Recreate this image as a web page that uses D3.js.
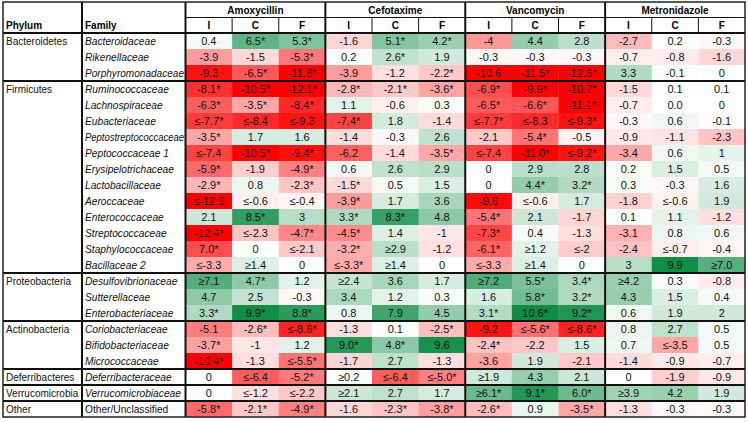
<!DOCTYPE html>
<html><head><meta charset="utf-8">
<script src="https://cdn.jsdelivr.net/npm/d3@7"></script>
<style>
html,body{margin:0;padding:0;background:#fff;}
svg{display:block;font-family:"Liberation Sans",Arial,sans-serif;}
</style></head>
<body><svg id="chart" width="748" height="422"></svg>
<script>
const phyla = ["Bacteroidetes","Firmicutes","Proteobacteria","Actinobacteria","Deferribacteres","Verrucomicrobia","Other"];
const phylumSizes = [3,12,3,3,1,1,1];
const families = ["Bacteroidaceae","Rikenellaceae","Porphyromonadaceae",
  "Ruminococcaceae","Lachnospiraceae","Eubacteriaceae","Peptostreptococcaceae","Peptococcaceae 1","Erysipelotrichaceae","Lactobacillaceae","Aeroccaceae","Enterococcaceae","Streptococcaceae","Staphylococcaceae","Bacillaceae 2",
  "Desulfovibrionaceae","Sutterellaceae","Enterobacteriaceae",
  "Coriobacteriaceae","Bifidobacteriaceae","Micrococcaceae",
  "Deferribacteraceae","Verrucomicrobiaceae","Other/Unclassified"];
const antibiotics = ["Amoxycillin","Cefotaxime","Vancomycin","Metronidazole"];
const subCols = ["I","C","F"];

const amoxycillin = [
 ["0.4","6.5*","5.3*"],["-3.9","-1.5","-5.3*"],["-9.3","-6.5*","-11.8*"],
 ["-8.1*","-10.5*","-12.1*"],["-6.3*","-3.5*","-8.4*"],["≤-7.7*","≤-8.4","≤-9.3"],["-3.5*","1.7","1.6"],["≤-7.4","-10.5*","-9.4*"],["-5.9*","-1.9","-4.9*"],["-2.9*","0.8","-2.3*"],["≤-12.9","≤-0.6","≤-0.4"],["2.1","8.5*","3"],["-12.4*","≤-2.3","-4.7*"],["7.0*","0","≤-2.1"],["≤-3.3","≥1.4","0"],
 ["≥7.1","4.7*","1.2"],["4.7","2.5","-0.3"],["3.3*","9.9*","8.8*"],
 ["-5.1","-2.6*","≤-8.6*"],["-3.7*","-1","1.2"],["-10.4*","-1.3","≤-5.5*"],
 ["0","≤-6.4","-5.2*"],["0","≤-1.2","≤-2.2"],["-5.8*","-2.1*","-4.9*"]];
const cefotaxime = [
 ["-1.6","5.1*","4.2*"],["0.2","2.6*","1.9"],["-3.9","-1.2","-2.2*"],
 ["-2.8*","-2.1*","-3.6*"],["1.1","-0.6","0.3"],["-7.4*","1.8","-1.4"],["-1.4","-0.3","2.6"],["-6.2","-1.4","-3.5*"],["0.6","2.6","2.9"],["-1.5*","0.5","1.5"],["-3.9*","1.7","3.6"],["3.3*","8.3*","4.8"],["-4.5*","1.4","-1"],["-3.2*","≥2.9","-1.2"],["≤-3.3*","≥1.4","0"],
 ["≥2.4","3.6","1.7"],["3.4","1.2","0.3"],["0.8","7.9","4.5"],
 ["-1.3","0.1","-2.5*"],["9.0*","4.8*","9.6"],["-1.7","2.7","-1.3"],
 ["≥0.2","≤-6.4","≤-5.0*"],["≥2.1","2.7","1.7"],["-1.6","-2.3*","-3.8*"]];
const vancomycin = [
 ["-4","4.4","2.8"],["-0.3","-0.3","-0.3"],["-10.6","-11.5*","-12.6*"],
 ["-6.9*","-9.9*","-10.7*"],["-6.5*","-6.6*","-11.1*"],["≤-7.7*","≤-8.3","≤-9.3*"],["-2.1","-5.4*","-0.5"],["≤-7.4","-11.0*","≤-9.2*"],["0","2.9","2.8"],["0","4.4*","3.2*"],["-9.6","≤-0.6","1.7"],["-5.4*","2.1","-1.7"],["-7.3*","0.4","-1.3"],["-6.1*","≥1.2","≤-2"],["≤-3.3","≥1.4","0"],
 ["≥7.2","5.5*","3.4*"],["1.6","5.8*","3.2*"],["3.1*","10.6*","9.2*"],
 ["-9.2","≤-5.6*","≤-8.6*"],["-2.4*","-2.2","1.5"],["-3.6","1.9","-2.1"],
 ["≥1.9","4.3","2.1"],["≥6.1*","9.1*","6.0*"],["-2.6*","0.9","-3.5*"]];
const metronidazole = [
 ["-2.7","0.2","-0.3"],["-0.7","-0.8","-1.6"],["3.3","-0.1","0"],
 ["-1.5","0.1","0.1"],["-0.7","0.0","0"],["-0.3","0.6","-0.1"],["-0.9","-1.1","-2.3"],["-3.4","0.6","1"],["0.2","1.5","0.5"],["0.3","-0.3","1.6"],["-1.8","≤-0.6","1.9"],["0.1","1.1","-1.2"],["-3.1","0.8","0.6"],["-2.4","≤-0.7","-0.4"],["3","9.9","≥7.0"],
 ["≥4.2","0.3","-0.8"],["4.3","1.5","0.4"],["0.6","1.9","2"],
 ["0.8","2.7","0.5"],["0.7","≤-3.5","0.5"],["-1.4","-0.9","-0.7"],
 ["0","-1.9","-0.9"],["≥3.9","4.2","1.9"],["-1.3","-0.3","-0.3"]];
// the reference shades this cell red although its label reads 7.0*
const fillOverrides = {"Staphylococcaceae|Amoxycillin|I": -7.0};

const series = {Amoxycillin: amoxycillin, Cefotaxime: cefotaxime, Vancomycin: vancomycin, Metronidazole: metronidazole};

const svg = d3.select("#chart");
const L = 3, R = 745, T = 2, B = 417;
const xPhylum = 3, xFamily = 82, xData = 185.5;
const yHead1 = 17.5, yHead2 = 33;

const colKeys = [];
antibiotics.forEach(a => subCols.forEach(s => colKeys.push(a + "|" + s)));
const x = d3.scaleBand().domain(colKeys).range([xData, R]);
const xGroup = d3.scaleBand().domain(antibiotics).range([xData, R]);
const y = d3.scaleBand().domain(families).range([yHead2, B]);
const color = d3.scaleLinear().domain([-10, 0, 10]).range(["#ff0000", "#ffffff", "#0e8c45"]).clamp(true);

const parseVal = s => parseFloat(s.replace(/[≤≥*]/g, ""));

const cells = [];
families.forEach((f, i) => antibiotics.forEach(a => subCols.forEach((s, j) => {
  const label = series[a][i][j];
  const key = f + "|" + a + "|" + s;
  const v = key in fillOverrides ? fillOverrides[key] : parseVal(label);
  cells.push({f, a, s, label, v});
})));

const g = svg.append("g");
g.selectAll("rect.cell").data(cells).join("rect")
  .attr("class", "cell")
  .attr("x", d => x(d.a + "|" + d.s))
  .attr("y", d => y(d.f))
  .attr("width", x.bandwidth() + 0.3)
  .attr("height", y.bandwidth() + 0.3)
  .attr("fill", d => color(d.v));

g.selectAll("text.val").data(cells).join("text")
  .attr("class", "val")
  .attr("x", d => x(d.a + "|" + d.s) + x.bandwidth() / 2)
  .attr("y", d => y(d.f) + y.bandwidth() / 2 + 4)
  .attr("text-anchor", "middle")
  .attr("font-size", 11)
  .attr("fill", "#111")
  .text(d => d.label);

// family names
const maxFamW = xData - xFamily - 4.5;
g.selectAll("text.fam").data(families).join("text")
  .attr("class", "fam")
  .attr("x", xFamily + 3)
  .attr("y", d => y(d) + y.bandwidth() / 2 + 3.8)
  .attr("font-size", 10.2)
  .attr("font-style", d => d === "Other/Unclassified" ? "normal" : "italic")
  .attr("fill", "#111")
  .text(d => d)
  .each(function() {
    if (this.getComputedTextLength() > maxFamW) {
      d3.select(this).attr("textLength", maxFamW).attr("lengthAdjust", "spacingAndGlyphs");
    }
  });

// phylum groups
let idx = 0;
const groups = phyla.map((p, k) => {
  const start = idx; idx += phylumSizes[k];
  return {p, first: families[start], last: families[idx - 1]};
});
g.selectAll("text.phy").data(groups).join("text")
  .attr("class", "phy")
  .attr("x", xPhylum + 3)
  .attr("y", d => y(d.first) + y.bandwidth() / 2 + 3.8)
  .attr("font-size", 10)
  .attr("fill", "#111")
  .text(d => d.p);

// headers
g.append("text").attr("x", xPhylum + 3).attr("y", 29).attr("font-size", 10).attr("font-weight", "bold").text("Phylum");
g.append("text").attr("x", xFamily + 3).attr("y", 29).attr("font-size", 10).attr("font-weight", "bold").text("Family");
g.selectAll("text.ab").data(antibiotics).join("text")
  .attr("class", "ab")
  .attr("x", d => xGroup(d) + xGroup.bandwidth() / 2)
  .attr("y", 13.5)
  .attr("text-anchor", "middle").attr("font-size", 10).attr("font-weight", "bold")
  .text(d => d);
g.selectAll("text.sub").data(colKeys).join("text")
  .attr("class", "sub")
  .attr("x", d => x(d) + x.bandwidth() / 2)
  .attr("y", 29)
  .attr("text-anchor", "middle").attr("font-size", 10).attr("font-weight", "bold")
  .text(d => d.split("|")[1]);

// lines
const line = (x1, y1, x2, y2, w) => g.append("line")
  .attr("x1", x1).attr("y1", y1).attr("x2", x2).attr("y2", y2)
  .attr("stroke", "#111").attr("stroke-width", w);

line(xData, yHead1, R, yHead1, 1);
colKeys.forEach((k, i) => { if (i % 3 !== 0) line(x(k), yHead1, x(k), yHead2, 1); });
line(L, yHead2, R, yHead2, 2);
groups.slice(1).forEach(d => line(L, y(d.first), R, y(d.first), 2));
line(xFamily, T, xFamily, B, 2);
antibiotics.forEach(a => line(xGroup(a), T, xGroup(a), B, 2));
g.append("rect").attr("x", L).attr("y", T).attr("width", R - L).attr("height", B - T)
  .attr("fill", "none").attr("stroke", "#222").attr("stroke-width", 1.5);
</script>
</body></html>
